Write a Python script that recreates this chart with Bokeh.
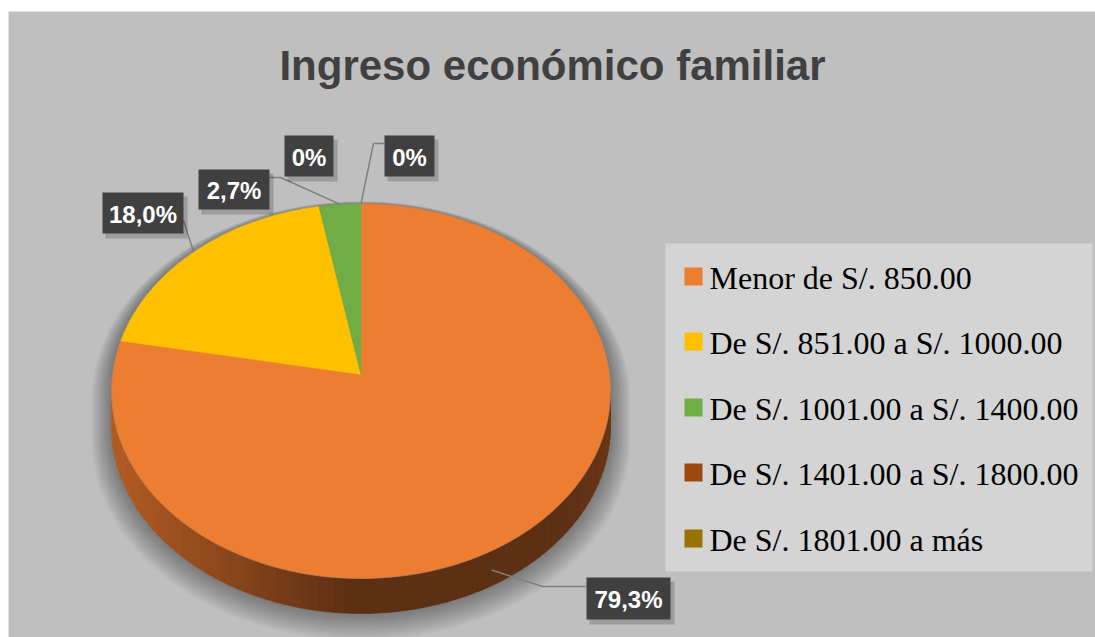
import math
from bokeh.plotting import figure
from bokeh.models import Range1d, Label
from bokeh.core.properties import value
from bokeh.embed import file_html
from bokeh.resources import INLINE

# ---------------- data ----------------
categories = ["Menor de S/. 850.00", "De S/. 851.00 a S/. 1000.00",
              "De S/. 1001.00 a S/. 1400.00", "De S/. 1401.00 a S/. 1800.00",
              "De S/. 1801.00 a más"]
percent = [79.3, 18.0, 2.7, 0.0, 0.0]
labels = ["79,3%", "18,0%", "2,7%", "0%", "0%"]
colors = ["#ED7D31", "#FFC000", "#70AD47", "#9E480E", "#997300"]
title_text = "Ingreso económico familiar"

# ---------------- layout ----------------
W, H = 1095, 637
p = figure(width=W, height=H, output_backend="svg", toolbar_location=None,
           x_range=Range1d(0, W), y_range=Range1d(H, 0),
           min_border=0, background_fill_color="white",
           border_fill_color="white", outline_line_color=None)
p.axis.visible = False
p.grid.visible = False

# chart area background
p.quad(left=8, right=W, top=11, bottom=H, fill_color="#bfbfbf", line_color=None)

cx, cy, rx, ry = 360.5, 390.5, 249.5, 187.5   # top face ellipse
ax_, ay_ = 360.5, 374.0                         # apex of slices
depth = 35.0

def ell(phi_deg, dx=0.0, dy=0.0, erx=rx, ery=ry):
    t = math.radians(phi_deg)
    return cx + dx + erx * math.sin(t), cy + dy - ery * math.cos(t)

# soft shadow
for k in range(22, 0, -2):
    xs, ys = [], []
    for i in range(0, 181):
        x, y = ell(-90 + i, 0, k * 0.4, rx + k * 0.9, ry + k * 0.5)
        xs.append(x); ys.append(y)
    for i in range(0, 181):
        x, y = ell(90 + i, 0, depth + k * 0.6, rx + k * 0.9, ry + k * 0.6)
        xs.append(x); ys.append(y)
    p.patch(xs, ys, fill_color="black", fill_alpha=0.035, line_color=None)

# side of the cylinder (lower half), gradient strips
def lerp(c1, c2, f):
    a = [int(c1[i:i + 2], 16) for i in (1, 3, 5)]
    b = [int(c2[i:i + 2], 16) for i in (1, 3, 5)]
    return "#%02x%02x%02x" % tuple(int(round(a[j] + (b[j] - a[j]) * f)) for j in range(3))

sxs, sys_, scol = [], [], []
N = 90
for i in range(N):
    a0 = 270 - i * 180 / N
    a1 = 270 - (i + 1) * 180 / N
    x0, y0 = ell(a0); x1, y1 = ell(a1)
    sxs.append([x0, x1, x1, x0])
    sys_.append([y0, y1, y1 + depth, y0 + depth])
    xm = (x0 + x1) / 2
    f = min(1.0, max(0.0, (xm - 110) / 240.0))
    c = lerp("#b65c22", "#5d2f13", f)
    if xm > 560:
        c = lerp("#5d2f13", "#6a3516", (xm - 560) / 50.0)
    scol.append(c)
p.patches(sxs, sys_, fill_color=scol, line_color=scol, line_width=0.6)

# top face wedges from data (clockwise from 12 o'clock)
total = sum(percent)
start = 0.0
mids = []
for v, col in zip(percent, colors):
    ang = v / total * 360.0
    a0, a1 = start, start + ang
    mids.append(start + ang / 2)
    if ang > 0:
        n = max(2, int(ang))
        xs, ys = [ax_], [ay_]
        for i in range(n + 1):
            x, y = ell(a0 + (a1 - a0) * i / n)
            xs.append(x); ys.append(y)
        p.patch(xs, ys, fill_color=col, line_color=col, line_width=0.5)
    start += ang
# ellipse rim
rxs, rys = [], []
for i in range(361):
    x, y = ell(i); rxs.append(x); rys.append(y)
p.line(rxs, rys, line_color="#8a8a8a", line_width=0.6, line_alpha=0.6)

# ---------------- data labels ----------------
# box (left, top, right, bottom) and elbow for each label (layout)
boxes = [(586, 577, 670, 619), (102, 192, 183, 233), (198, 169, 269, 209),
         (284, 135, 333, 176), (384, 135, 434, 176)]
elbows = [(542, 586, 586, 586), (None, None, 183, 220), (280, 177, 269, 177),
          None, (373, 143, 384, 143)]
lx, ly = [], []
for i, m in enumerate(mids):
    if elbows[i] is None:
        continue
    x, y = ell(m)
    if math.cos(math.radians(m)) < 0:
        x, y = ell(m, -16, depth * 0.85, rx * 0.97, ry)
    ex, ey, bx, by = elbows[i]
    if ex is None:
        lx.append([x, bx]); ly.append([y, by])
    else:
        lx.append([x, ex, bx]); ly.append([y, ey, by])
p.multi_line(lx, ly, line_color="#7f7f7f", line_width=1.5)

for (l, t, r, b), txt in zip(boxes, labels):
    p.quad(left=l + 3, right=r + 4, top=t + 4, bottom=b + 5, fill_color="black",
           fill_alpha=0.18, line_color=None)
    p.quad(left=l, right=r, top=t, bottom=b, fill_color="#404040", line_color=None)
    p.text(x=[(l + r) / 2], y=[(t + b) / 2 + 1], text=[txt], text_color="white",
           text_font=value("Liberation Sans"), text_font_style="bold",
           text_font_size="24px", text_align="center", text_baseline="middle")

# ---------------- legend ----------------
p.quad(left=665, right=1092, top=243, bottom=571, fill_color="#d4d4d4", line_color=None)
leg_y = [276, 341, 407, 472, 538]
for yy, col, cat in zip(leg_y, colors, categories):
    p.quad(left=684, right=702, top=yy - 9, bottom=yy + 9, fill_color=col, line_color=None)
    p.text(x=[709], y=[yy + 1], text=[cat], text_color="black",
           text_font=value("Liberation Serif"), text_font_size="32px",
           text_align="left", text_baseline="middle")

# ---------------- title ----------------
p.add_layout(Label(x=552, y=65, text=title_text, text_align="center",
                   text_baseline="middle", text_color="#404040",
                   text_font="Liberation Sans",
                   text_font_style="bold", text_font_size="42px"))

open("out.html", "w").write(file_html(p, INLINE))
